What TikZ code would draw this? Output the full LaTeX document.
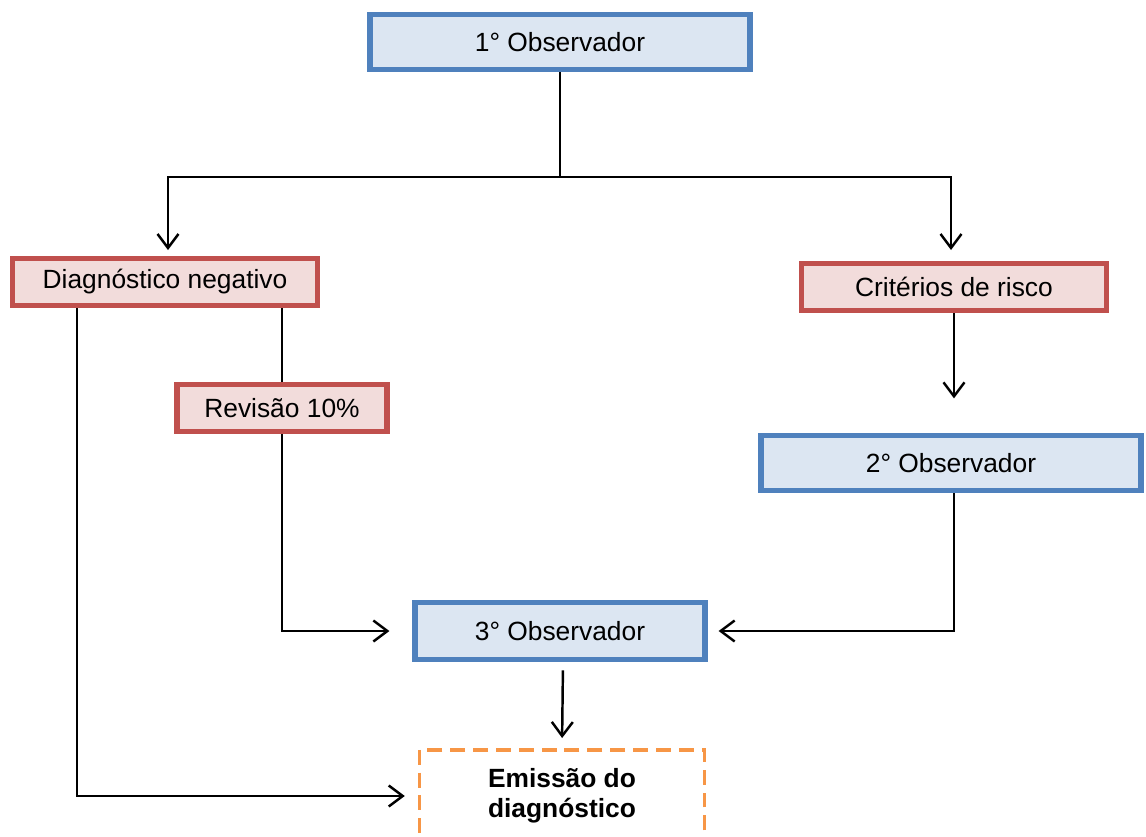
\documentclass[tikz,border=0pt]{standalone}
\usepackage{fontspec}
\setmainfont{Liberation Sans}
\usepackage{tikz}
\usetikzlibrary{calc}
\usetikzlibrary{positioning}
\usetikzlibrary{arrows.meta}
\definecolor{obsline}{HTML}{4F81BD}
\definecolor{obsfill}{HTML}{DCE6F2}
\definecolor{riskline}{HTML}{C0504D}
\definecolor{riskfill}{HTML}{F2DCDB}
\definecolor{endline}{HTML}{F79646}

\begin{document}
\begin{tikzpicture}[
     x=0.02cm, y=-0.02cm,
     font=\fontsize{15}{17.5}\selectfont,
     obsbox/.style={rectangle, draw=obsline, fill=obsfill, line width=3pt, minimum height=1.1cm, inner sep=0mm},
     riskbox/.style={rectangle, draw=riskline, fill=riskfill, line width=3pt, minimum height=0.95cm, inner sep=0mm},
     endbox/.style={rectangle, draw=endline, line width=2pt, dash pattern=on 8.5pt off 4.5pt, align=center, font=\fontsize{15}{17}\selectfont\bfseries},
     link/.style={line width=1.4pt},
     arrow/.style={link, -{Straight Barb[length=2.8mm, width=4.2mm]}}
 ]
 \useasboundingbox (0,0) rectangle (1146,836);

 % observers
 \node[obsbox, minimum width=7.6cm] (obs1) at (560,42) {1° Observador};
 \node[obsbox, minimum width=7.6cm] (obs2) at (951,463) {2° Observador};
 \node[obsbox, minimum width=5.8cm, minimum height=1.15cm] (obs3) at (560,631) {3° Observador};

 % first split
 \node[riskbox, minimum width=6.1cm] (neg) at (165,282) {Diagnóstico negativo};
 \node[riskbox, minimum width=6.1cm] (risk) at (954,287) {Critérios de risco};
 \node[riskbox, minimum width=4.2cm] (rev) at (282,408) {Revisão 10\%};

 \node[endbox, minimum width=5.7cm, minimum height=1.85cm] (emit) at (562,796) {Emissão do\\diagnóstico};

 \coordinate (split) at (560,177);
 \coordinate (negdown) at (77,795);
 \coordinate (obs2down) at (954,620);

 \draw[link] (obs1.south) -- (split);
 \draw[arrow, shorten >=0.12cm] (split) -| (168,256);
 \draw[arrow, shorten >=0.12cm] (split) -| (951,256);

 \draw[arrow] (risk.south) -- ([yshift=-1.7cm]risk.south);

 \draw[link] (rev.north) -- (rev.north |- neg.south);
 \draw[arrow, shorten >=0.46cm] (rev.south) |- (obs3.west);
 \draw[arrow, shorten >=0.22cm] (obs2.south -| obs2down) |- (obs3.east);

 \draw[arrow, shorten >=0.26cm] (neg.south -| negdown) |- (emit.west);
 \draw[arrow, shorten <=0.16cm, shorten >=0.2cm] ([xshift=0.06cm]obs3.south) -- (emit.north);
\end{tikzpicture}
\end{document}
